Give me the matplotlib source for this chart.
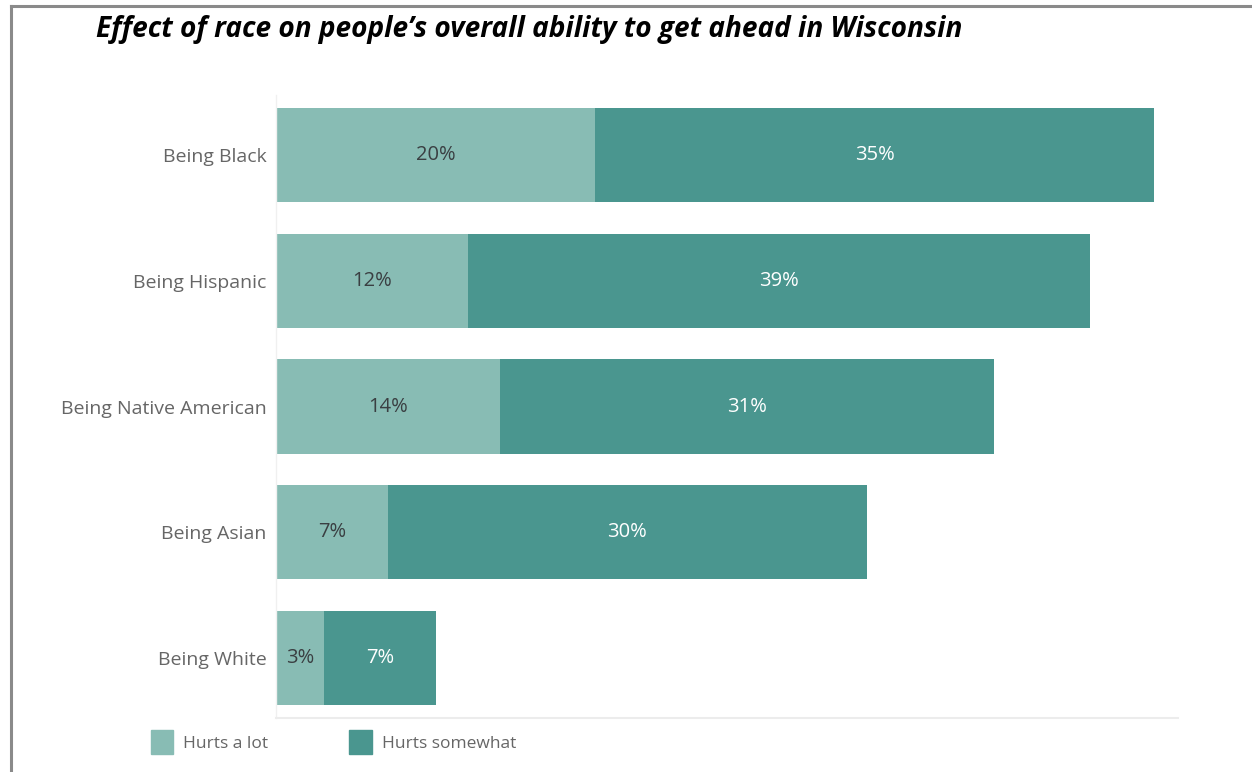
import matplotlib
matplotlib.use("Agg")
import matplotlib.pyplot as plt
from matplotlib.patches import Patch
from matplotlib.lines import Line2D

categories = ["Being Black", "Being Hispanic", "Being Native American", "Being Asian", "Being White"]
hurts_a_lot = [20, 12, 14, 7, 3]
hurts_somewhat = [35, 39, 31, 30, 7]
series_names = ["Hurts a lot", "Hurts somewhat"]

LIGHT = "#88bcb4"
DARK = "#4a968f"
FONT = "Open Sans"

fig = plt.figure(figsize=(12.52, 7.72), dpi=100)
ax = fig.add_axes([276 / 1252, 1 - 718 / 772, (1178 - 276) / 1252, (718 - 95) / 772])

ypos = list(range(len(categories)))
b1 = ax.barh(ypos, hurts_a_lot, height=0.75, color=LIGHT, label=series_names[0])
b2 = ax.barh(ypos, hurts_somewhat, left=hurts_a_lot, height=0.75, color=DARK, label=series_names[1])

# value labels centred in each segment
for rect, v in zip(b1, hurts_a_lot):
    ax.text(rect.get_x() + rect.get_width() / 2, rect.get_y() + rect.get_height() / 2,
            f"{v}%", ha="center", va="center", fontsize=14.5, color="#3a3f42", family=FONT)
for rect, v in zip(b2, hurts_somewhat):
    ax.text(rect.get_x() + rect.get_width() / 2, rect.get_y() + rect.get_height() / 2,
            f"{v}%", ha="center", va="center", fontsize=14.5, color="white", family=FONT)

ax.set_xlim(0, 56.5)
ax.set_ylim(4.48, -0.48)
ax.set_yticks(ypos)
ax.set_yticklabels(categories, fontsize=14, color="#666666", family=FONT)
ax.tick_params(axis="y", length=0, pad=7)
ax.set_xticks([])
for s in ["top", "right"]:
    ax.spines[s].set_visible(False)
ax.spines["left"].set_color("#f0f0f0")
ax.spines["bottom"].set_color("#ececec")
ax.spines["left"].set_linewidth(1)
ax.spines["bottom"].set_linewidth(1.5)

fig.text(96 / 1252, 1 - 37 / 772, "Effect of race on people\u2019s overall ability to get ahead in Wisconsin",
         fontsize=20.2, fontweight="bold", fontstyle="italic", family="Open Sans",
         ha="left", va="baseline", color="black")

handles = [Patch(facecolor=LIGHT, edgecolor=LIGHT), Patch(facecolor=DARK, edgecolor=DARK)]
leg = fig.legend(handles, series_names, loc="center left",
                 bbox_to_anchor=(135 / 1252, 1 - 742 / 772), ncol=2, frameon=False,
                 handlelength=1.3, handleheight=1.7, handletextpad=0.55, columnspacing=4.7,
                 prop={"family": FONT, "size": 12.5})
for t in leg.get_texts():
    t.set_color("#666666")

# outer frame (top and left edges)
fig.add_artist(Line2D([11 / 1252, 1], [1 - 6 / 772, 1 - 6 / 772], color="#8a8a8a", lw=2.2))
fig.add_artist(Line2D([11 / 1252, 11 / 1252], [0, 1 - 6 / 772], color="#8a8a8a", lw=2.2))

fig.savefig("out.png", dpi=100)
